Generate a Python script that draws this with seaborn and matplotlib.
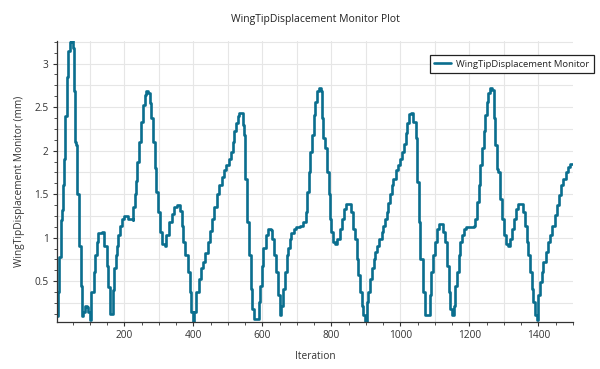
import numpy as np
import pandas as pd
import seaborn as sns
import matplotlib.pyplot as plt
from matplotlib.ticker import MultipleLocator

iteration = [5, 8, 12, 16, 19, 21, 24, 29, 34, 38, 43, 46, 50, 53, 58, 60, 64, 69, 74, 77,
             81, 85, 91, 96, 101, 104, 111, 115, 120, 125, 135, 142, 149, 154, 159, 165, 167, 169, 175, 179,
             183, 188, 192, 199, 207, 212, 216, 225, 226, 230, 233, 238, 242, 249, 254, 260, 264, 270, 273, 278,
             284, 289, 293, 298, 303, 310, 318, 322, 329, 337, 343, 353, 360, 366, 370, 377, 384, 390, 394, 398,
             403, 409, 416, 422, 427, 435, 442, 448, 454, 461, 468, 475, 482, 488, 494, 502, 509, 514, 519, 523,
             528, 531, 538, 543, 547, 550, 555, 562, 567, 571, 576, 584, 589, 594, 598, 603, 610, 617, 624, 629,
             634, 639, 646, 650, 655, 660, 665, 670, 674, 679, 684, 691, 698, 708, 718, 725, 729, 734, 739, 744,
             749, 753, 758, 764, 769, 773, 777, 782, 787, 792, 795, 799, 804, 811, 817, 824, 830, 836, 843, 850,
             857, 864, 869, 874, 878, 883, 888, 893, 898, 902, 907, 912, 917, 922, 926, 931, 939, 946, 950, 955,
             960, 965, 970, 975, 979, 987, 994, 999, 1005, 1010, 1015, 1020, 1026, 1032, 1037, 1044, 1049, 1053, 1058, 1064,
             1070, 1079, 1085, 1090, 1095, 1100, 1106, 1113, 1119, 1124, 1128, 1135, 1140, 1145, 1150, 1154, 1159, 1164, 1169, 1174,
             1178, 1183, 1191, 1202, 1212, 1217, 1222, 1227, 1231, 1236, 1241, 1246, 1251, 1255, 1260, 1265, 1270, 1275, 1280, 1284,
             1288, 1293, 1301, 1305, 1312, 1317, 1322, 1328, 1334, 1341, 1349, 1356, 1360, 1366, 1371, 1376, 1380, 1385, 1390, 1395,
             1400, 1405, 1409, 1414, 1421, 1428, 1433, 1440, 1447, 1453, 1459, 1466, 1472, 1479, 1485, 1491, 1500]

displacement = [0.1, 0.38, 0.78, 1.2, 1.32, 1.6, 1.9, 2.4, 2.85, 3.15, 3.25, 3.27, 3.18, 2.68, 2.1, 2.06, 1.5, 0.91, 0.45, 0.1,
                0.15, 0.22, 0.2, 0.15, 0.06, 0.38, 0.61, 0.8, 0.95, 1.05, 1.06, 0.91, 0.68, 0.43, 0.12, 0.12, 0.4, 0.65, 0.8, 0.91,
                1.03, 1.14, 1.22, 1.25, 1.25, 1.22, 1.21, 1.2, 1.35, 1.5, 1.65, 1.87, 2.1, 2.33, 2.52, 2.64, 2.68, 2.66, 2.55, 2.37,
                2.1, 1.8, 1.53, 1.3, 1.07, 0.93, 0.91, 1.03, 1.18, 1.27, 1.35, 1.37, 1.31, 1.14, 0.95, 0.8, 0.61, 0.38, 0.15, 0.03,
                0.15, 0.38, 0.53, 0.65, 0.72, 0.82, 0.95, 1.08, 1.22, 1.35, 1.5, 1.6, 1.7, 1.78, 1.84, 1.9, 1.98, 2.1, 2.22, 2.32,
                2.4, 2.43, 2.43, 2.3, 2.18, 1.68, 1.18, 0.8, 0.41, 0.18, 0.07, 0.07, 0.26, 0.45, 0.68, 0.88, 1.03, 1.1, 1.09, 0.99,
                0.8, 0.61, 0.34, 0.11, 0.22, 0.41, 0.61, 0.8, 0.88, 0.99, 1.05, 1.1, 1.12, 1.14, 1.18, 1.3, 1.53, 1.76, 1.99, 2.18,
                2.41, 2.56, 2.68, 2.72, 2.68, 2.37, 2.14, 2.03, 1.76, 1.5, 1.22, 1.07, 0.95, 0.93, 0.99, 1.1, 1.22, 1.33, 1.39, 1.39,
                1.3, 1.1, 0.99, 0.76, 0.57, 0.38, 0.22, 0.11, 0.03, 0.26, 0.38, 0.53, 0.65, 0.76, 0.84, 0.91, 0.99, 1.07, 1.14, 1.22,
                1.3, 1.4, 1.5, 1.6, 1.68, 1.78, 1.84, 1.9, 1.98, 2.08, 2.2, 2.32, 2.42, 2.43, 2.33, 2.14, 1.64, 1.18, 0.76, 0.38,
                0.11, 0.11, 0.34, 0.61, 0.8, 0.95, 1.1, 1.16, 1.16, 1.07, 0.95, 0.68, 0.38, 0.18, 0.11, 0.22, 0.45, 0.61, 0.8, 0.95,
                1.03, 1.1, 1.12, 1.12, 1.14, 1.22, 1.41, 1.6, 1.83, 2.03, 2.22, 2.41, 2.56, 2.66, 2.72, 2.7, 2.37, 2.06, 1.79, 1.76,
                1.45, 1.22, 1.03, 0.93, 0.91, 0.99, 1.1, 1.22, 1.33, 1.39, 1.39, 1.3, 1.14, 0.95, 0.8, 0.61, 0.41, 0.26, 0.11, 0.05,
                0.34, 0.49, 0.61, 0.72, 0.84, 0.95, 1.03, 1.14, 1.26, 1.37, 1.49, 1.6, 1.68, 1.76, 1.81, 1.85, 1.85]

df = pd.DataFrame({'Iteration': iteration, 'WingTipDisplacement Monitor': displacement})

sns.set_style('white')
plt.rcParams['font.family'] = ['Open Sans', 'DejaVu Sans']

fig = plt.figure(figsize=(6, 3.69), dpi=100)
ax = fig.add_axes([0.095, 0.127, 0.86, 0.762])

# light grid every 100 iterations / 0.25 mm
for gx in range(100, 1500, 100):
    ax.axvline(gx, color='#e6e6e6', lw=0.8, zorder=0)
for gy in np.arange(0.25, 3.26, 0.25):
    ax.axhline(gy, color='#e6e6e6', lw=0.8, zorder=0)

sns.lineplot(data=df, x='Iteration', y='WingTipDisplacement Monitor', ax=ax,
             drawstyle='steps-post', color='#0a6e8e', lw=1.9, estimator=None,
             label='WingTipDisplacement Monitor')

ax.set_xlim(5, 1500)
ax.set_ylim(0.03, 3.26)
ax.xaxis.set_major_locator(MultipleLocator(200))
ax.xaxis.set_minor_locator(MultipleLocator(50))
ax.yaxis.set_minor_locator(MultipleLocator(0.125))
ax.set_yticks([0.5, 1, 1.5, 2, 2.5, 3])
ax.set_yticklabels(['0.5', '1', '1.5', '2', '2.5', '3'])

for s in ['top', 'right']:
    ax.spines[s].set_visible(False)
for s in ['left', 'bottom']:
    ax.spines[s].set_color('#333333')
    ax.spines[s].set_linewidth(0.9)
ax.tick_params(which='both', direction='out', color='#333333', labelsize=7.3, labelcolor='#333333',
               left=True, bottom=True)
ax.tick_params(which='major', length=3, pad=3)
ax.tick_params(which='minor', length=2)

ax.set_title('WingTipDisplacement Monitor Plot', fontsize=7.5, color='#222222', pad=14)
ax.set_xlabel('Iteration', fontsize=7.3, color='#333333', labelpad=7)
ax.set_ylabel('WingTipDisplacement Monitor (mm)', fontsize=7.3, color='#333333', labelpad=7)

leg = ax.legend(loc='upper right', bbox_to_anchor=(1.041, 0.95), borderaxespad=0,
                fontsize=6.8, fancybox=False, framealpha=1, edgecolor='#222222',
                handlelength=1.8, handletextpad=0.5, borderpad=0.5)
leg.get_frame().set_linewidth(0.9)

fig.savefig('out.png', dpi=100)
